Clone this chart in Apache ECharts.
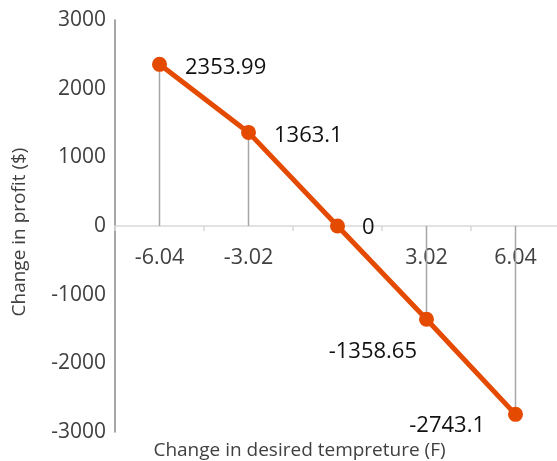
<!DOCTYPE html>
<html>
<head>
<meta charset="utf-8">
<script src="https://cdn.jsdelivr.net/npm/echarts@6/dist/echarts.min.js"></script>
<style>html,body{margin:0;padding:0;background:#fff}#c{width:557px;height:461px}</style>
</head>
<body>
<div id="c"></div>
<script>
var categories = ['-6.04', '-3.02', '0', '3.02', '6.04'];
var tickLabels = ['-6.04', '-3.02', '', '3.02', '6.04'];
var profitChange = [2353.99, 1363.1, 0, -1358.65, -2743.1];
var dataLabels = ['2353.99', '1363.1', '0', '-1358.65', '-2743.1'];
var yTicks = [-3000, -2000, -1000, 0, 1000, 2000, 3000];

var labelStyles = [
  {position: 'right', distance: 18, offset: [0, 3]},
  {position: 'right', distance: 18, offset: [0, 3]},
  {position: 'right', distance: 17, offset: [0, 2]},
  {position: 'left', distance: 2, offset: [0, 32]},
  {position: 'left', distance: 23, offset: [0, 11]}
];

var font = '"Open Sans", "Noto Sans", sans-serif';
var textColor = '#404040';

var chart = echarts.init(document.getElementById('c'));
chart.setOption({
  animation: false,
  grid: {left: 115, top: 20, width: 445, height: 412, containLabel: false, outerBoundsMode: 'none'},
  xAxis: {
    type: 'category',
    data: categories,
    boundaryGap: true,
    position: 'bottom',
    offset: -206,
    name: 'Change in desired tempreture (F)',
    nameLocation: 'middle',
    nameGap: 215,
    nameTextStyle: {fontFamily: font, fontSize: 19, color: textColor, padding: [0, 76, 0, 0]},
    axisLine: {onZero: false, lineStyle: {color: '#d9d9d9', width: 1.5}},
    axisTick: {show: true, alignWithLabel: false, length: 5, lineStyle: {color: '#d9d9d9', width: 1.5}},
    axisLabel: {
      fontFamily: font, fontSize: 21.5, color: textColor, margin: 21,
      formatter: function (v, i) { return tickLabels[i]; }
    }
  },
  yAxis: {
    type: 'value',
    min: yTicks[0],
    max: yTicks[yTicks.length - 1],
    interval: 1000,
    name: 'Change in profit ($)',
    nameLocation: 'middle',
    nameGap: 86,
    nameTextStyle: {fontFamily: font, fontSize: 19, color: textColor, padding: [0, 12, 0, 0]},
    axisLine: {show: true, onZero: false, lineStyle: {color: '#888888', width: 1.5}},
    axisTick: {show: false},
    splitLine: {show: false},
    axisLabel: {fontFamily: font, fontSize: 21, color: textColor, margin: 9,
      formatter: function (v) { return String(v); }}
  },
  series: [
    {
      type: 'bar',
      data: profitChange,
      barWidth: 1.5,
      itemStyle: {color: '#a6a6a6'},
      z: 1,
      silent: true
    },
    {
      type: 'line',
      data: profitChange.map(function (v, i) {
        return {value: v, label: Object.assign({show: true, formatter: dataLabels[i]}, labelStyles[i])};
      }),
      symbol: 'circle',
      symbolSize: 15,
      lineStyle: {color: '#e44a00', width: 5},
      itemStyle: {color: '#e44a00'},
      label: {show: true, fontFamily: font, fontSize: 22, color: '#111111'},
      z: 3
    }
  ]
});
</script>
</body>
</html>
